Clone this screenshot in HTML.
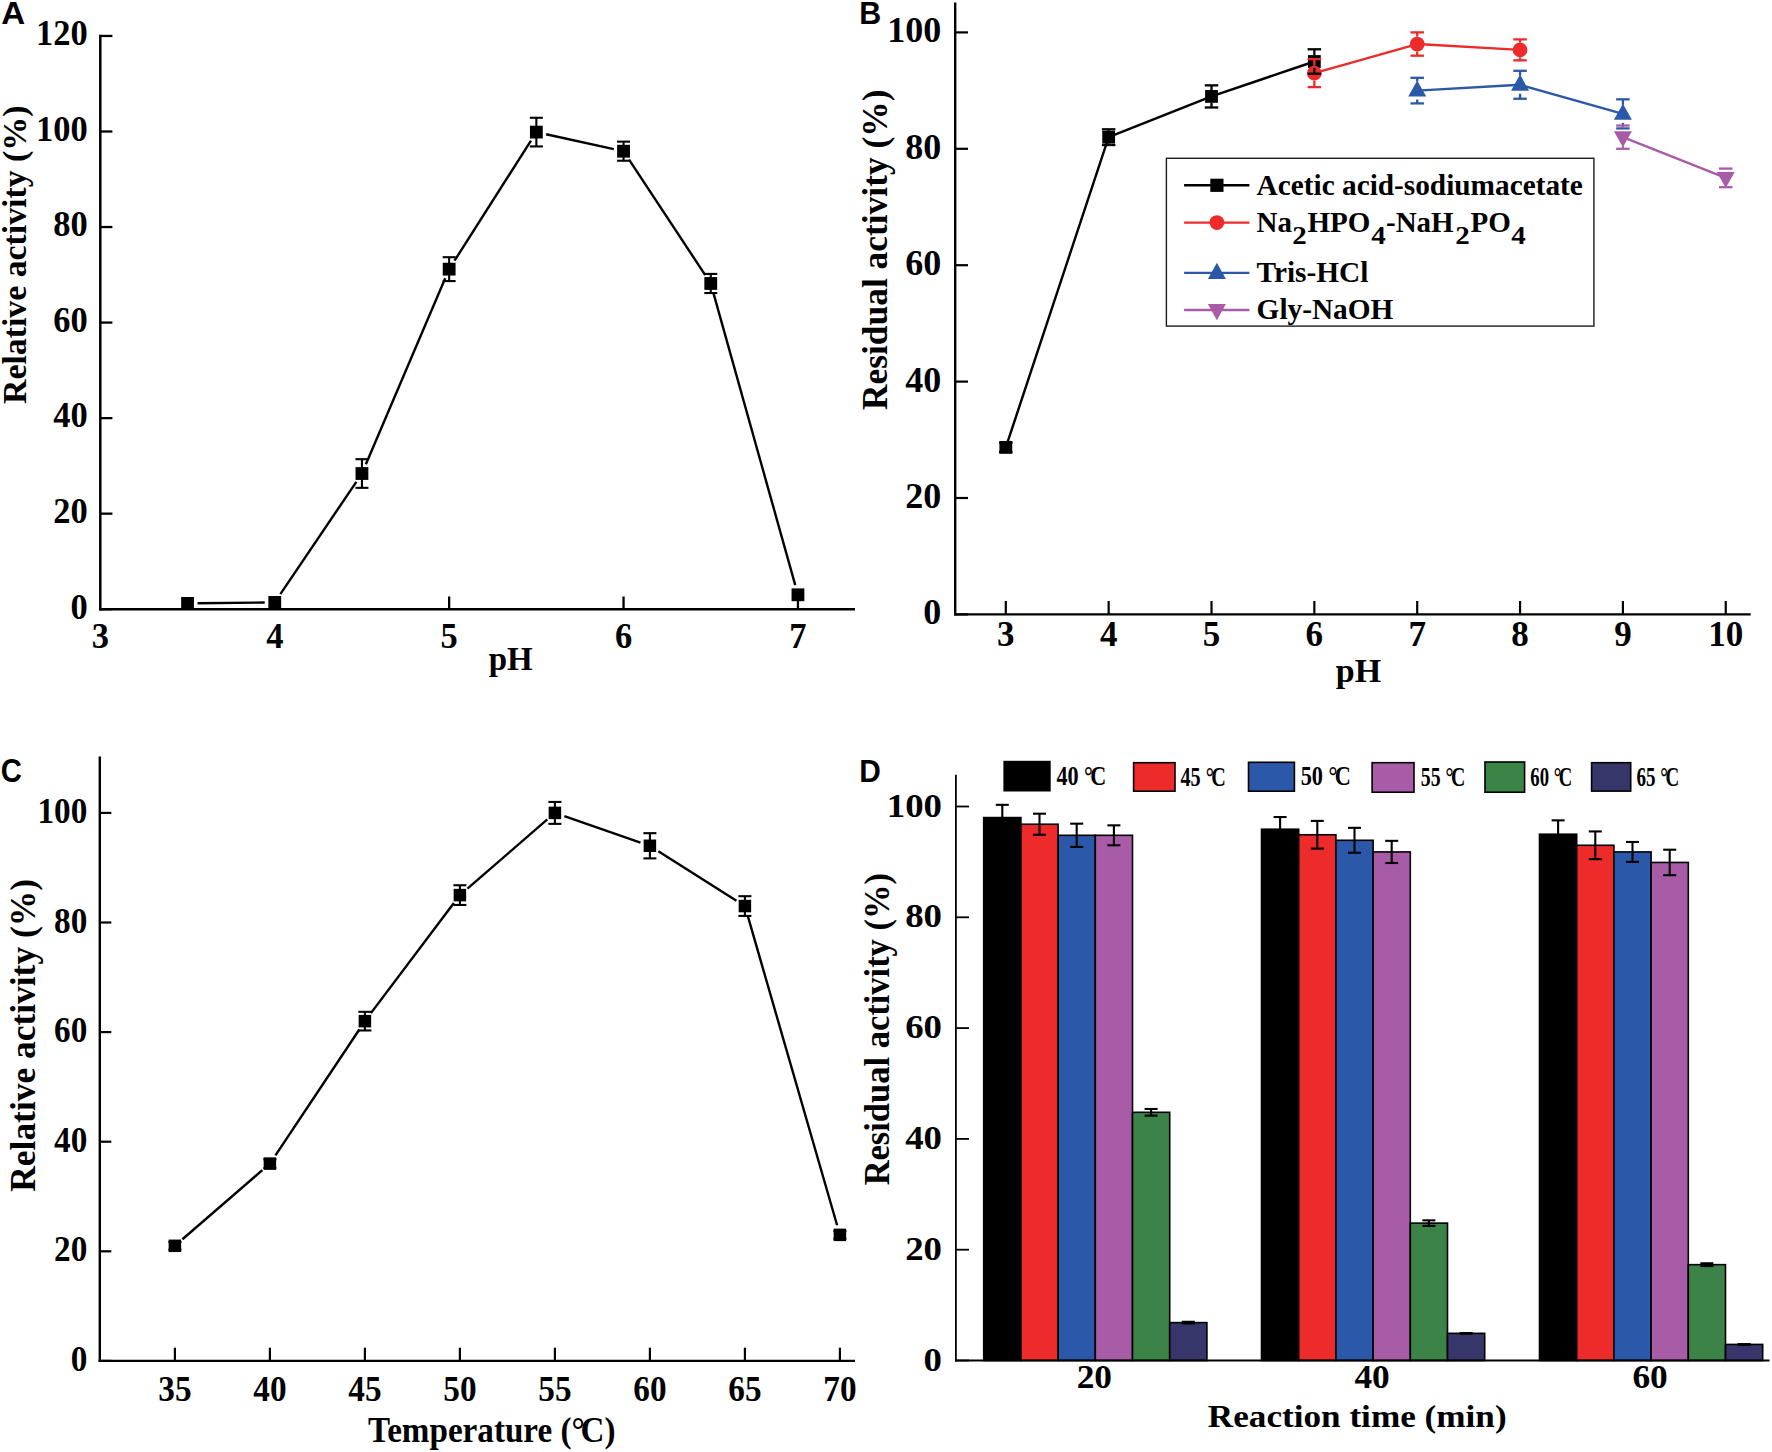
<!DOCTYPE html>
<html lang="en"><head><meta charset="utf-8"><title>Figure</title>
<style>html,body{margin:0;padding:0;background:#fff}svg{display:block}text{fill:#000}</style>
</head><body>
<svg width="1772" height="1452" viewBox="0 0 1772 1452">
<rect width="1772" height="1452" fill="#fff"/>
<line x1="100.3" y1="34.8" x2="100.3" y2="610.45" stroke="#000" stroke-width="2.5" />
<line x1="99.05" y1="609.2" x2="855" y2="609.2" stroke="#000" stroke-width="2.5" />
<line x1="100.3" y1="609.2" x2="112.4" y2="609.2" stroke="#000" stroke-width="2.3" />
<text transform="translate(87.7,618.5) scale(0.985,1)" font-size="35" text-anchor="end" font-family="Liberation Serif, serif" font-weight="bold" >0</text>
<line x1="100.3" y1="513.66" x2="112.4" y2="513.66" stroke="#000" stroke-width="2.3" />
<text transform="translate(87.7,522.96) scale(0.985,1)" font-size="35" text-anchor="end" font-family="Liberation Serif, serif" font-weight="bold" >20</text>
<line x1="100.3" y1="418.12" x2="112.4" y2="418.12" stroke="#000" stroke-width="2.3" />
<text transform="translate(87.7,427.42) scale(0.985,1)" font-size="35" text-anchor="end" font-family="Liberation Serif, serif" font-weight="bold" >40</text>
<line x1="100.3" y1="322.58" x2="112.4" y2="322.58" stroke="#000" stroke-width="2.3" />
<text transform="translate(87.7,331.88) scale(0.985,1)" font-size="35" text-anchor="end" font-family="Liberation Serif, serif" font-weight="bold" >60</text>
<line x1="100.3" y1="227.04" x2="112.4" y2="227.04" stroke="#000" stroke-width="2.3" />
<text transform="translate(87.7,236.34) scale(0.985,1)" font-size="35" text-anchor="end" font-family="Liberation Serif, serif" font-weight="bold" >80</text>
<line x1="100.3" y1="131.5" x2="112.4" y2="131.5" stroke="#000" stroke-width="2.3" />
<text transform="translate(87.7,140.8) scale(0.985,1)" font-size="35" text-anchor="end" font-family="Liberation Serif, serif" font-weight="bold" >100</text>
<line x1="100.3" y1="35.96" x2="112.4" y2="35.96" stroke="#000" stroke-width="2.3" />
<text transform="translate(87.7,45.26) scale(0.985,1)" font-size="35" text-anchor="end" font-family="Liberation Serif, serif" font-weight="bold" >120</text>
<text transform="translate(100.35,647.8) scale(0.985,1)" font-size="35" text-anchor="middle" font-family="Liberation Serif, serif" font-weight="bold" >3</text>
<line x1="274.75" y1="609.2" x2="274.75" y2="596.5" stroke="#000" stroke-width="2.3" />
<text transform="translate(274.75,647.8) scale(0.985,1)" font-size="35" text-anchor="middle" font-family="Liberation Serif, serif" font-weight="bold" >4</text>
<line x1="449.15" y1="609.2" x2="449.15" y2="596.5" stroke="#000" stroke-width="2.3" />
<text transform="translate(449.15,647.8) scale(0.985,1)" font-size="35" text-anchor="middle" font-family="Liberation Serif, serif" font-weight="bold" >5</text>
<line x1="623.55" y1="609.2" x2="623.55" y2="596.5" stroke="#000" stroke-width="2.3" />
<text transform="translate(623.55,647.8) scale(0.985,1)" font-size="35" text-anchor="middle" font-family="Liberation Serif, serif" font-weight="bold" >6</text>
<line x1="797.95" y1="609.2" x2="797.95" y2="596.5" stroke="#000" stroke-width="2.3" />
<text transform="translate(797.95,647.8) scale(0.985,1)" font-size="35" text-anchor="middle" font-family="Liberation Serif, serif" font-weight="bold" >7</text>
<text x="510.7" y="669.9" font-size="33" text-anchor="middle" font-family="Liberation Serif, serif" font-weight="bold" >pH</text>
<text transform="translate(26.3,254.8) rotate(-90) scale(0.98,1)" font-size="34.5" text-anchor="middle" font-family="Liberation Serif, serif" font-weight="bold" >Relative activity (%)</text>
<text transform="translate(1.2,24.3) scale(1.07,1)" font-size="31" text-anchor="start" font-family="Liberation Sans, sans-serif" font-weight="bold" >A</text>
<line x1="197.55" y1="603.28" x2="264.75" y2="602.55" stroke="#000" stroke-width="2.4" />
<line x1="280.35" y1="594.15" x2="356.35" y2="481.8" stroke="#000" stroke-width="2.4" />
<line x1="365.87" y1="464.31" x2="445.23" y2="278.34" stroke="#000" stroke-width="2.4" />
<line x1="454.52" y1="260.71" x2="530.98" y2="140.54" stroke="#000" stroke-width="2.4" />
<line x1="546.12" y1="134.24" x2="613.78" y2="149.06" stroke="#000" stroke-width="2.4" />
<line x1="629.05" y1="159.55" x2="705.25" y2="275.12" stroke="#000" stroke-width="2.4" />
<line x1="713.45" y1="293.1" x2="795.25" y2="585.17" stroke="#000" stroke-width="2.4" />
<line x1="361.95" y1="459.19" x2="361.95" y2="487.84" stroke="#000" stroke-width="2.1" />
<line x1="355.45" y1="459.19" x2="368.45" y2="459.19" stroke="#000" stroke-width="2.1" />
<line x1="355.45" y1="487.84" x2="368.45" y2="487.84" stroke="#000" stroke-width="2.1" />
<line x1="449.15" y1="257.2" x2="449.15" y2="281.08" stroke="#000" stroke-width="2.1" />
<line x1="442.65" y1="257.2" x2="455.65" y2="257.2" stroke="#000" stroke-width="2.1" />
<line x1="442.65" y1="281.08" x2="455.65" y2="281.08" stroke="#000" stroke-width="2.1" />
<line x1="536.35" y1="117.77" x2="536.35" y2="146.43" stroke="#000" stroke-width="2.1" />
<line x1="529.85" y1="117.77" x2="542.85" y2="117.77" stroke="#000" stroke-width="2.1" />
<line x1="529.85" y1="146.43" x2="542.85" y2="146.43" stroke="#000" stroke-width="2.1" />
<line x1="623.55" y1="141.65" x2="623.55" y2="160.75" stroke="#000" stroke-width="2.1" />
<line x1="617.05" y1="141.65" x2="630.05" y2="141.65" stroke="#000" stroke-width="2.1" />
<line x1="617.05" y1="160.75" x2="630.05" y2="160.75" stroke="#000" stroke-width="2.1" />
<line x1="710.75" y1="273.92" x2="710.75" y2="293.02" stroke="#000" stroke-width="2.1" />
<line x1="704.25" y1="273.92" x2="717.25" y2="273.92" stroke="#000" stroke-width="2.1" />
<line x1="704.25" y1="293.02" x2="717.25" y2="293.02" stroke="#000" stroke-width="2.1" />
<rect x="181.15" y="596.99" width="12.8" height="12.8" fill="#000"/>
<rect x="268.35" y="596.04" width="12.8" height="12.8" fill="#000"/>
<rect x="355.55" y="467.11" width="12.8" height="12.8" fill="#000"/>
<rect x="442.75" y="262.74" width="12.8" height="12.8" fill="#000"/>
<rect x="529.95" y="125.7" width="12.8" height="12.8" fill="#000"/>
<rect x="617.15" y="144.8" width="12.8" height="12.8" fill="#000"/>
<rect x="704.35" y="277.07" width="12.8" height="12.8" fill="#000"/>
<rect x="791.55" y="588.4" width="12.8" height="12.8" fill="#000"/>
<line x1="955.2" y1="2.4" x2="955.2" y2="615.6" stroke="#000" stroke-width="2.4" />
<line x1="954" y1="614.4" x2="1750.7" y2="614.4" stroke="#000" stroke-width="2.4" />
<line x1="955.2" y1="614.4" x2="968" y2="614.4" stroke="#000" stroke-width="2.2" />
<text transform="translate(941.2,624.3) scale(1.03,1)" font-size="35" text-anchor="end" font-family="Liberation Serif, serif" font-weight="bold" >0</text>
<line x1="955.2" y1="498" x2="968" y2="498" stroke="#000" stroke-width="2.2" />
<text transform="translate(941.2,507.9) scale(1.03,1)" font-size="35" text-anchor="end" font-family="Liberation Serif, serif" font-weight="bold" >20</text>
<line x1="955.2" y1="381.6" x2="968" y2="381.6" stroke="#000" stroke-width="2.2" />
<text transform="translate(941.2,391.5) scale(1.03,1)" font-size="35" text-anchor="end" font-family="Liberation Serif, serif" font-weight="bold" >40</text>
<line x1="955.2" y1="265.2" x2="968" y2="265.2" stroke="#000" stroke-width="2.2" />
<text transform="translate(941.2,275.1) scale(1.03,1)" font-size="35" text-anchor="end" font-family="Liberation Serif, serif" font-weight="bold" >60</text>
<line x1="955.2" y1="148.8" x2="968" y2="148.8" stroke="#000" stroke-width="2.2" />
<text transform="translate(941.2,158.7) scale(1.03,1)" font-size="35" text-anchor="end" font-family="Liberation Serif, serif" font-weight="bold" >80</text>
<line x1="955.2" y1="32.4" x2="968" y2="32.4" stroke="#000" stroke-width="2.2" />
<text transform="translate(941.2,42.3) scale(1.03,1)" font-size="35" text-anchor="end" font-family="Liberation Serif, serif" font-weight="bold" >100</text>
<line x1="1005.8" y1="614.4" x2="1005.8" y2="601" stroke="#000" stroke-width="2.2" />
<text x="1005.8" y="645.7" font-size="35" text-anchor="middle" font-family="Liberation Serif, serif" font-weight="bold" >3</text>
<line x1="1108.65" y1="614.4" x2="1108.65" y2="601" stroke="#000" stroke-width="2.2" />
<text x="1108.65" y="645.7" font-size="35" text-anchor="middle" font-family="Liberation Serif, serif" font-weight="bold" >4</text>
<line x1="1211.5" y1="614.4" x2="1211.5" y2="601" stroke="#000" stroke-width="2.2" />
<text x="1211.5" y="645.7" font-size="35" text-anchor="middle" font-family="Liberation Serif, serif" font-weight="bold" >5</text>
<line x1="1314.35" y1="614.4" x2="1314.35" y2="601" stroke="#000" stroke-width="2.2" />
<text x="1314.35" y="645.7" font-size="35" text-anchor="middle" font-family="Liberation Serif, serif" font-weight="bold" >6</text>
<line x1="1417.2" y1="614.4" x2="1417.2" y2="601" stroke="#000" stroke-width="2.2" />
<text x="1417.2" y="645.7" font-size="35" text-anchor="middle" font-family="Liberation Serif, serif" font-weight="bold" >7</text>
<line x1="1520.05" y1="614.4" x2="1520.05" y2="601" stroke="#000" stroke-width="2.2" />
<text x="1520.05" y="645.7" font-size="35" text-anchor="middle" font-family="Liberation Serif, serif" font-weight="bold" >8</text>
<line x1="1622.9" y1="614.4" x2="1622.9" y2="601" stroke="#000" stroke-width="2.2" />
<text x="1622.9" y="645.7" font-size="35" text-anchor="middle" font-family="Liberation Serif, serif" font-weight="bold" >9</text>
<line x1="1725.75" y1="614.4" x2="1725.75" y2="601" stroke="#000" stroke-width="2.2" />
<text x="1725.75" y="645.7" font-size="35" text-anchor="middle" font-family="Liberation Serif, serif" font-weight="bold" >10</text>
<text x="1358.5" y="682.4" font-size="34" text-anchor="middle" font-family="Liberation Serif, serif" font-weight="bold" >pH</text>
<text transform="translate(886.6,249.8) rotate(-90) scale(1,1)" font-size="35.4" text-anchor="middle" font-family="Liberation Serif, serif" font-weight="bold" >Residual activity (%)</text>
<text transform="translate(859.2,24.3) scale(0.98,1)" font-size="31" text-anchor="start" font-family="Liberation Sans, sans-serif" font-weight="bold" >B</text>
<polyline fill="none" stroke="#000" stroke-width="2.4" stroke-linejoin="round" points="1005.8,447.37 1108.65,137.16 1211.5,96.42 1314.35,61.5"/>
<polyline fill="none" stroke="#ed2b2a" stroke-width="2.4" stroke-linejoin="round" points="1314.35,73.14 1417.2,44.04 1520.05,49.86"/>
<polyline fill="none" stroke="#2b58a8" stroke-width="2.4" stroke-linejoin="round" points="1417.2,90.6 1520.05,84.78 1622.9,113.88"/>
<polyline fill="none" stroke="#a85ca8" stroke-width="2.4" stroke-linejoin="round" points="1622.9,137.16 1725.75,177.9"/>
<rect x="999.4" y="440.97" width="12.8" height="12.8" fill="#000"/>
<rect x="1102.25" y="130.76" width="12.8" height="12.8" fill="#000"/>
<rect x="1205.1" y="90.02" width="12.8" height="12.8" fill="#000"/>
<rect x="1307.95" y="55.1" width="12.8" height="12.8" fill="#000"/>
<circle cx="1314.35" cy="73.14" r="7.4" fill="#ed2b2a"/>
<circle cx="1417.2" cy="44.04" r="7.4" fill="#ed2b2a"/>
<circle cx="1520.05" cy="49.86" r="7.4" fill="#ed2b2a"/>
<polygon points="1417.2,80.39 1408.2,96.59 1426.2,96.59" fill="#2b58a8"/>
<polygon points="1520.05,74.57 1511.05,90.77 1529.05,90.77" fill="#2b58a8"/>
<polygon points="1622.9,103.67 1613.9,119.87 1631.9,119.87" fill="#2b58a8"/>
<polygon points="1622.9,147.37 1613.9,131.17 1631.9,131.17" fill="#a85ca8"/>
<polygon points="1725.75,188.11 1716.75,171.91 1734.75,171.91" fill="#a85ca8"/>
<line x1="999.05" y1="442.71" x2="1012.55" y2="442.71" stroke="#000" stroke-width="2.3" />
<line x1="999.05" y1="452.02" x2="1012.55" y2="452.02" stroke="#000" stroke-width="2.3" />
<line x1="1108.65" y1="129.3" x2="1108.65" y2="130.76" stroke="#000" stroke-width="2.3" />
<line x1="1108.65" y1="143.56" x2="1108.65" y2="145.02" stroke="#000" stroke-width="2.3" />
<line x1="1101.9" y1="129.3" x2="1115.4" y2="129.3" stroke="#000" stroke-width="2.3" />
<line x1="1101.9" y1="145.02" x2="1115.4" y2="145.02" stroke="#000" stroke-width="2.3" />
<line x1="1211.5" y1="85.36" x2="1211.5" y2="90.02" stroke="#000" stroke-width="2.3" />
<line x1="1211.5" y1="102.82" x2="1211.5" y2="107.48" stroke="#000" stroke-width="2.3" />
<line x1="1204.75" y1="85.36" x2="1218.25" y2="85.36" stroke="#000" stroke-width="2.3" />
<line x1="1204.75" y1="107.48" x2="1218.25" y2="107.48" stroke="#000" stroke-width="2.3" />
<line x1="1314.35" y1="49.28" x2="1314.35" y2="55.1" stroke="#000" stroke-width="2.3" />
<line x1="1314.35" y1="67.9" x2="1314.35" y2="73.72" stroke="#000" stroke-width="2.3" />
<line x1="1307.6" y1="49.28" x2="1321.1" y2="49.28" stroke="#000" stroke-width="2.3" />
<line x1="1307.6" y1="73.72" x2="1321.1" y2="73.72" stroke="#000" stroke-width="2.3" />
<line x1="1314.35" y1="59.17" x2="1314.35" y2="65.74" stroke="#ed2b2a" stroke-width="2.3" />
<line x1="1314.35" y1="80.54" x2="1314.35" y2="87.11" stroke="#ed2b2a" stroke-width="2.3" />
<line x1="1307.6" y1="59.17" x2="1321.1" y2="59.17" stroke="#ed2b2a" stroke-width="2.3" />
<line x1="1307.6" y1="87.11" x2="1321.1" y2="87.11" stroke="#ed2b2a" stroke-width="2.3" />
<line x1="1417.2" y1="32.4" x2="1417.2" y2="36.64" stroke="#ed2b2a" stroke-width="2.3" />
<line x1="1417.2" y1="51.44" x2="1417.2" y2="55.68" stroke="#ed2b2a" stroke-width="2.3" />
<line x1="1410.45" y1="32.4" x2="1423.95" y2="32.4" stroke="#ed2b2a" stroke-width="2.3" />
<line x1="1410.45" y1="55.68" x2="1423.95" y2="55.68" stroke="#ed2b2a" stroke-width="2.3" />
<line x1="1520.05" y1="39.38" x2="1520.05" y2="42.46" stroke="#ed2b2a" stroke-width="2.3" />
<line x1="1520.05" y1="57.26" x2="1520.05" y2="60.34" stroke="#ed2b2a" stroke-width="2.3" />
<line x1="1513.3" y1="39.38" x2="1526.8" y2="39.38" stroke="#ed2b2a" stroke-width="2.3" />
<line x1="1513.3" y1="60.34" x2="1526.8" y2="60.34" stroke="#ed2b2a" stroke-width="2.3" />
<line x1="1417.2" y1="77.8" x2="1417.2" y2="81.6" stroke="#2b58a8" stroke-width="2.3" />
<line x1="1417.2" y1="99.6" x2="1417.2" y2="103.4" stroke="#2b58a8" stroke-width="2.3" />
<line x1="1410.45" y1="77.8" x2="1423.95" y2="77.8" stroke="#2b58a8" stroke-width="2.3" />
<line x1="1410.45" y1="103.4" x2="1423.95" y2="103.4" stroke="#2b58a8" stroke-width="2.3" />
<line x1="1520.05" y1="70.81" x2="1520.05" y2="75.78" stroke="#2b58a8" stroke-width="2.3" />
<line x1="1520.05" y1="93.78" x2="1520.05" y2="98.75" stroke="#2b58a8" stroke-width="2.3" />
<line x1="1513.3" y1="70.81" x2="1526.8" y2="70.81" stroke="#2b58a8" stroke-width="2.3" />
<line x1="1513.3" y1="98.75" x2="1526.8" y2="98.75" stroke="#2b58a8" stroke-width="2.3" />
<line x1="1622.9" y1="99.33" x2="1622.9" y2="104.88" stroke="#2b58a8" stroke-width="2.3" />
<line x1="1622.9" y1="122.88" x2="1622.9" y2="128.43" stroke="#2b58a8" stroke-width="2.3" />
<line x1="1616.15" y1="99.33" x2="1629.65" y2="99.33" stroke="#2b58a8" stroke-width="2.3" />
<line x1="1616.15" y1="128.43" x2="1629.65" y2="128.43" stroke="#2b58a8" stroke-width="2.3" />
<line x1="1622.9" y1="125.52" x2="1622.9" y2="128.16" stroke="#a85ca8" stroke-width="2.3" />
<line x1="1622.9" y1="146.16" x2="1622.9" y2="148.8" stroke="#a85ca8" stroke-width="2.3" />
<line x1="1616.15" y1="125.52" x2="1629.65" y2="125.52" stroke="#a85ca8" stroke-width="2.3" />
<line x1="1616.15" y1="148.8" x2="1629.65" y2="148.8" stroke="#a85ca8" stroke-width="2.3" />
<line x1="1725.75" y1="168.59" x2="1725.75" y2="168.9" stroke="#a85ca8" stroke-width="2.3" />
<line x1="1725.75" y1="186.9" x2="1725.75" y2="187.21" stroke="#a85ca8" stroke-width="2.3" />
<line x1="1719" y1="168.59" x2="1732.5" y2="168.59" stroke="#a85ca8" stroke-width="2.3" />
<line x1="1719" y1="187.21" x2="1732.5" y2="187.21" stroke="#a85ca8" stroke-width="2.3" />
<rect x="1166.4" y="158.3" width="427.5" height="167.8" fill="#fff" stroke="#1c1c1c" stroke-width="1.4"/>
<line x1="1184.1" y1="185.3" x2="1249.4" y2="185.3" stroke="#000" stroke-width="2.4" />
<rect x="1210.3" y="178.7" width="13.2" height="13.2" fill="#000"/>
<text x="1256.6" y="194.6" font-size="29.3" text-anchor="start" font-family="Liberation Serif, serif" font-weight="bold" >Acetic acid-sodiumacetate</text>
<line x1="1184.1" y1="222.6" x2="1249.4" y2="222.6" stroke="#ed2b2a" stroke-width="2.4" />
<circle cx="1216.9" cy="222.6" r="7.4" fill="#ed2b2a"/>
<line x1="1184.1" y1="272.9" x2="1249.4" y2="272.9" stroke="#2b58a8" stroke-width="2.4" />
<polygon points="1216.9,262.69 1207.9,278.89 1225.9,278.89" fill="#2b58a8"/>
<text x="1256.6" y="282.3" font-size="29.3" text-anchor="start" font-family="Liberation Serif, serif" font-weight="bold" >Tris-HCl</text>
<line x1="1184.1" y1="310" x2="1249.4" y2="310" stroke="#a85ca8" stroke-width="2.4" />
<polygon points="1216.9,320.21 1207.9,304.01 1225.9,304.01" fill="#a85ca8"/>
<text x="1256.6" y="319.1" font-size="29.3" text-anchor="start" font-family="Liberation Serif, serif" font-weight="bold" >Gly-NaOH</text>
<text y="232" font-size="29" font-family="Liberation Serif, serif" font-weight="bold"><tspan x="1256.6">Na</tspan><tspan x="1292.2" dy="11.5" font-size="25.5" textLength="14.5" lengthAdjust="spacingAndGlyphs">2</tspan><tspan x="1307.5" dy="-11.5">HPO</tspan><tspan x="1371.2" dy="11.5" font-size="25.5" textLength="14.5" lengthAdjust="spacingAndGlyphs">4</tspan><tspan x="1386" dy="-11.5">-NaH</tspan><tspan x="1455.2" dy="11.5" font-size="25.5" textLength="14.5" lengthAdjust="spacingAndGlyphs">2</tspan><tspan x="1470.5" dy="-11.5">PO</tspan><tspan x="1511.2" dy="11.5" font-size="25.5" textLength="14.5" lengthAdjust="spacingAndGlyphs">4</tspan></text>
<line x1="99.8" y1="756.5" x2="99.8" y2="1362.1" stroke="#000" stroke-width="2.4" />
<line x1="98.6" y1="1360.9" x2="855" y2="1360.9" stroke="#000" stroke-width="2.4" />
<line x1="99.8" y1="1360.9" x2="111.3" y2="1360.9" stroke="#000" stroke-width="2.2" />
<text transform="translate(87.3,1370.9) scale(0.91,1)" font-size="36.5" text-anchor="end" font-family="Liberation Serif, serif" font-weight="bold" >0</text>
<line x1="99.8" y1="1251.3" x2="111.3" y2="1251.3" stroke="#000" stroke-width="2.2" />
<text transform="translate(87.3,1261.3) scale(0.91,1)" font-size="36.5" text-anchor="end" font-family="Liberation Serif, serif" font-weight="bold" >20</text>
<line x1="99.8" y1="1141.7" x2="111.3" y2="1141.7" stroke="#000" stroke-width="2.2" />
<text transform="translate(87.3,1151.7) scale(0.91,1)" font-size="36.5" text-anchor="end" font-family="Liberation Serif, serif" font-weight="bold" >40</text>
<line x1="99.8" y1="1032.1" x2="111.3" y2="1032.1" stroke="#000" stroke-width="2.2" />
<text transform="translate(87.3,1042.1) scale(0.91,1)" font-size="36.5" text-anchor="end" font-family="Liberation Serif, serif" font-weight="bold" >60</text>
<line x1="99.8" y1="922.5" x2="111.3" y2="922.5" stroke="#000" stroke-width="2.2" />
<text transform="translate(87.3,932.5) scale(0.91,1)" font-size="36.5" text-anchor="end" font-family="Liberation Serif, serif" font-weight="bold" >80</text>
<line x1="99.8" y1="812.9" x2="111.3" y2="812.9" stroke="#000" stroke-width="2.2" />
<text transform="translate(87.3,822.9) scale(0.91,1)" font-size="36.5" text-anchor="end" font-family="Liberation Serif, serif" font-weight="bold" >100</text>
<line x1="174.9" y1="1360.9" x2="174.9" y2="1347.7" stroke="#000" stroke-width="2.2" />
<text transform="translate(174.9,1400.7) scale(0.91,1)" font-size="36.5" text-anchor="middle" font-family="Liberation Serif, serif" font-weight="bold" >35</text>
<line x1="269.9" y1="1360.9" x2="269.9" y2="1347.7" stroke="#000" stroke-width="2.2" />
<text transform="translate(269.9,1400.7) scale(0.91,1)" font-size="36.5" text-anchor="middle" font-family="Liberation Serif, serif" font-weight="bold" >40</text>
<line x1="364.9" y1="1360.9" x2="364.9" y2="1347.7" stroke="#000" stroke-width="2.2" />
<text transform="translate(364.9,1400.7) scale(0.91,1)" font-size="36.5" text-anchor="middle" font-family="Liberation Serif, serif" font-weight="bold" >45</text>
<line x1="459.9" y1="1360.9" x2="459.9" y2="1347.7" stroke="#000" stroke-width="2.2" />
<text transform="translate(459.9,1400.7) scale(0.91,1)" font-size="36.5" text-anchor="middle" font-family="Liberation Serif, serif" font-weight="bold" >50</text>
<line x1="554.9" y1="1360.9" x2="554.9" y2="1347.7" stroke="#000" stroke-width="2.2" />
<text transform="translate(554.9,1400.7) scale(0.91,1)" font-size="36.5" text-anchor="middle" font-family="Liberation Serif, serif" font-weight="bold" >55</text>
<line x1="649.9" y1="1360.9" x2="649.9" y2="1347.7" stroke="#000" stroke-width="2.2" />
<text transform="translate(649.9,1400.7) scale(0.91,1)" font-size="36.5" text-anchor="middle" font-family="Liberation Serif, serif" font-weight="bold" >60</text>
<line x1="744.9" y1="1360.9" x2="744.9" y2="1347.7" stroke="#000" stroke-width="2.2" />
<text transform="translate(744.9,1400.7) scale(0.91,1)" font-size="36.5" text-anchor="middle" font-family="Liberation Serif, serif" font-weight="bold" >65</text>
<line x1="839.9" y1="1360.9" x2="839.9" y2="1347.7" stroke="#000" stroke-width="2.2" />
<text transform="translate(839.9,1400.7) scale(0.91,1)" font-size="36.5" text-anchor="middle" font-family="Liberation Serif, serif" font-weight="bold" >70</text>
<text transform="translate(491.8,1441.8) scale(0.939,1)" font-size="35.3" text-anchor="middle" font-family="Liberation Serif, serif" font-weight="bold">Temperature (°<tspan dx="-4.5">C</tspan>)</text>
<text transform="translate(35,1035.4) rotate(-90) scale(1.012,1)" font-size="35" text-anchor="middle" font-family="Liberation Serif, serif" font-weight="bold" >Relative activity (%)</text>
<text transform="translate(0.7,782.1) scale(0.9,1)" font-size="32.5" text-anchor="start" font-family="Liberation Sans, sans-serif" font-weight="bold" >C</text>
<line x1="182.46" y1="1239.28" x2="262.34" y2="1170.16" stroke="#000" stroke-width="2.4" />
<line x1="275.45" y1="1155.3" x2="359.35" y2="1029.46" stroke="#000" stroke-width="2.4" />
<line x1="370.92" y1="1013.15" x2="453.88" y2="903.09" stroke="#000" stroke-width="2.4" />
<line x1="467.46" y1="888.56" x2="547.34" y2="819.44" stroke="#000" stroke-width="2.4" />
<line x1="564.35" y1="816.17" x2="640.45" y2="842.51" stroke="#000" stroke-width="2.4" />
<line x1="658.34" y1="851.14" x2="736.46" y2="900.7" stroke="#000" stroke-width="2.4" />
<line x1="747.68" y1="915.67" x2="837.12" y2="1225.25" stroke="#000" stroke-width="2.4" />
<line x1="174.9" y1="1241.98" x2="174.9" y2="1249.66" stroke="#000" stroke-width="2.1" />
<line x1="168.4" y1="1241.98" x2="181.4" y2="1241.98" stroke="#000" stroke-width="2.1" />
<line x1="168.4" y1="1249.66" x2="181.4" y2="1249.66" stroke="#000" stroke-width="2.1" />
<line x1="269.9" y1="1159.24" x2="269.9" y2="1168" stroke="#000" stroke-width="2.1" />
<line x1="263.4" y1="1159.24" x2="276.4" y2="1159.24" stroke="#000" stroke-width="2.1" />
<line x1="263.4" y1="1168" x2="276.4" y2="1168" stroke="#000" stroke-width="2.1" />
<line x1="364.9" y1="1011.82" x2="364.9" y2="1030.46" stroke="#000" stroke-width="2.1" />
<line x1="358.4" y1="1011.82" x2="371.4" y2="1011.82" stroke="#000" stroke-width="2.1" />
<line x1="358.4" y1="1030.46" x2="371.4" y2="1030.46" stroke="#000" stroke-width="2.1" />
<line x1="459.9" y1="885.24" x2="459.9" y2="904.96" stroke="#000" stroke-width="2.1" />
<line x1="453.4" y1="885.24" x2="466.4" y2="885.24" stroke="#000" stroke-width="2.1" />
<line x1="453.4" y1="904.96" x2="466.4" y2="904.96" stroke="#000" stroke-width="2.1" />
<line x1="554.9" y1="801.94" x2="554.9" y2="823.86" stroke="#000" stroke-width="2.1" />
<line x1="548.4" y1="801.94" x2="561.4" y2="801.94" stroke="#000" stroke-width="2.1" />
<line x1="548.4" y1="823.86" x2="561.4" y2="823.86" stroke="#000" stroke-width="2.1" />
<line x1="649.9" y1="833.18" x2="649.9" y2="858.38" stroke="#000" stroke-width="2.1" />
<line x1="643.4" y1="833.18" x2="656.4" y2="833.18" stroke="#000" stroke-width="2.1" />
<line x1="643.4" y1="858.38" x2="656.4" y2="858.38" stroke="#000" stroke-width="2.1" />
<line x1="744.9" y1="896.2" x2="744.9" y2="915.92" stroke="#000" stroke-width="2.1" />
<line x1="738.4" y1="896.2" x2="751.4" y2="896.2" stroke="#000" stroke-width="2.1" />
<line x1="738.4" y1="915.92" x2="751.4" y2="915.92" stroke="#000" stroke-width="2.1" />
<line x1="839.9" y1="1231.02" x2="839.9" y2="1238.7" stroke="#000" stroke-width="2.1" />
<line x1="833.4" y1="1231.02" x2="846.4" y2="1231.02" stroke="#000" stroke-width="2.1" />
<line x1="833.4" y1="1238.7" x2="846.4" y2="1238.7" stroke="#000" stroke-width="2.1" />
<rect x="168.65" y="1239.57" width="12.5" height="12.5" fill="#000"/>
<rect x="263.65" y="1157.37" width="12.5" height="12.5" fill="#000"/>
<rect x="358.65" y="1014.89" width="12.5" height="12.5" fill="#000"/>
<rect x="453.65" y="888.85" width="12.5" height="12.5" fill="#000"/>
<rect x="548.65" y="806.65" width="12.5" height="12.5" fill="#000"/>
<rect x="643.65" y="839.53" width="12.5" height="12.5" fill="#000"/>
<rect x="738.65" y="899.81" width="12.5" height="12.5" fill="#000"/>
<rect x="833.65" y="1228.61" width="12.5" height="12.5" fill="#000"/>
<rect x="983.7" y="817.58" width="37.2" height="542.92" fill="#000" stroke="#000" stroke-width="1.6"/>
<rect x="1020.9" y="824.23" width="37.2" height="536.27" fill="#ed2b2a" stroke="#000" stroke-width="1.6"/>
<rect x="1058.1" y="835.31" width="37.2" height="525.19" fill="#2b58a8" stroke="#000" stroke-width="1.6"/>
<rect x="1095.3" y="835.31" width="37.2" height="525.19" fill="#a85ca8" stroke="#000" stroke-width="1.6"/>
<rect x="1132.5" y="1112.31" width="37.2" height="248.19" fill="#3b8346" stroke="#000" stroke-width="1.6"/>
<rect x="1169.7" y="1322.61" width="37.2" height="37.89" fill="#36366a" stroke="#000" stroke-width="1.6"/>
<line x1="1002.3" y1="804.84" x2="1002.3" y2="830.32" stroke="#000" stroke-width="2.1" />
<line x1="995.8" y1="804.84" x2="1008.8" y2="804.84" stroke="#000" stroke-width="2.1" />
<line x1="995.8" y1="830.32" x2="1008.8" y2="830.32" stroke="#000" stroke-width="2.1" />
<line x1="1039.5" y1="813.7" x2="1039.5" y2="834.75" stroke="#000" stroke-width="2.1" />
<line x1="1033" y1="813.7" x2="1046" y2="813.7" stroke="#000" stroke-width="2.1" />
<line x1="1033" y1="834.75" x2="1046" y2="834.75" stroke="#000" stroke-width="2.1" />
<line x1="1076.7" y1="823.67" x2="1076.7" y2="846.94" stroke="#000" stroke-width="2.1" />
<line x1="1070.2" y1="823.67" x2="1083.2" y2="823.67" stroke="#000" stroke-width="2.1" />
<line x1="1070.2" y1="846.94" x2="1083.2" y2="846.94" stroke="#000" stroke-width="2.1" />
<line x1="1113.9" y1="825.34" x2="1113.9" y2="845.28" stroke="#000" stroke-width="2.1" />
<line x1="1107.4" y1="825.34" x2="1120.4" y2="825.34" stroke="#000" stroke-width="2.1" />
<line x1="1107.4" y1="845.28" x2="1120.4" y2="845.28" stroke="#000" stroke-width="2.1" />
<line x1="1151.1" y1="1108.98" x2="1151.1" y2="1115.63" stroke="#000" stroke-width="2.1" />
<line x1="1144.6" y1="1108.98" x2="1157.6" y2="1108.98" stroke="#000" stroke-width="2.1" />
<line x1="1144.6" y1="1115.63" x2="1157.6" y2="1115.63" stroke="#000" stroke-width="2.1" />
<line x1="1188.3" y1="1321.78" x2="1188.3" y2="1323.44" stroke="#000" stroke-width="2.1" />
<line x1="1181.8" y1="1321.78" x2="1194.8" y2="1321.78" stroke="#000" stroke-width="2.1" />
<line x1="1181.8" y1="1323.44" x2="1194.8" y2="1323.44" stroke="#000" stroke-width="2.1" />
<text transform="translate(1094.3,1388.3) scale(1.04,1)" font-size="34" text-anchor="middle" font-family="Liberation Serif, serif" font-weight="bold" >20</text>
<rect x="1261.5" y="829.21" width="37.2" height="531.29" fill="#000" stroke="#000" stroke-width="1.6"/>
<rect x="1298.7" y="834.75" width="37.2" height="525.75" fill="#ed2b2a" stroke="#000" stroke-width="1.6"/>
<rect x="1335.9" y="840.29" width="37.2" height="520.21" fill="#2b58a8" stroke="#000" stroke-width="1.6"/>
<rect x="1373.1" y="851.93" width="37.2" height="508.57" fill="#a85ca8" stroke="#000" stroke-width="1.6"/>
<rect x="1410.3" y="1223.11" width="37.2" height="137.39" fill="#3b8346" stroke="#000" stroke-width="1.6"/>
<rect x="1447.5" y="1333.35" width="37.2" height="27.15" fill="#36366a" stroke="#000" stroke-width="1.6"/>
<line x1="1280.1" y1="817.03" x2="1280.1" y2="841.4" stroke="#000" stroke-width="2.1" />
<line x1="1273.6" y1="817.03" x2="1286.6" y2="817.03" stroke="#000" stroke-width="2.1" />
<line x1="1273.6" y1="841.4" x2="1286.6" y2="841.4" stroke="#000" stroke-width="2.1" />
<line x1="1317.3" y1="820.9" x2="1317.3" y2="848.6" stroke="#000" stroke-width="2.1" />
<line x1="1310.8" y1="820.9" x2="1323.8" y2="820.9" stroke="#000" stroke-width="2.1" />
<line x1="1310.8" y1="848.6" x2="1323.8" y2="848.6" stroke="#000" stroke-width="2.1" />
<line x1="1354.5" y1="827.83" x2="1354.5" y2="852.76" stroke="#000" stroke-width="2.1" />
<line x1="1348" y1="827.83" x2="1361" y2="827.83" stroke="#000" stroke-width="2.1" />
<line x1="1348" y1="852.76" x2="1361" y2="852.76" stroke="#000" stroke-width="2.1" />
<line x1="1391.7" y1="840.85" x2="1391.7" y2="863.01" stroke="#000" stroke-width="2.1" />
<line x1="1385.2" y1="840.85" x2="1398.2" y2="840.85" stroke="#000" stroke-width="2.1" />
<line x1="1385.2" y1="863.01" x2="1398.2" y2="863.01" stroke="#000" stroke-width="2.1" />
<line x1="1428.9" y1="1220.34" x2="1428.9" y2="1225.88" stroke="#000" stroke-width="2.1" />
<line x1="1422.4" y1="1220.34" x2="1435.4" y2="1220.34" stroke="#000" stroke-width="2.1" />
<line x1="1422.4" y1="1225.88" x2="1435.4" y2="1225.88" stroke="#000" stroke-width="2.1" />
<line x1="1466.1" y1="1333.08" x2="1466.1" y2="1333.63" stroke="#000" stroke-width="2.1" />
<line x1="1459.6" y1="1333.08" x2="1472.6" y2="1333.08" stroke="#000" stroke-width="2.1" />
<line x1="1459.6" y1="1333.63" x2="1472.6" y2="1333.63" stroke="#000" stroke-width="2.1" />
<text transform="translate(1372.1,1388.3) scale(1.04,1)" font-size="34" text-anchor="middle" font-family="Liberation Serif, serif" font-weight="bold" >40</text>
<rect x="1539.5" y="834.2" width="37.2" height="526.3" fill="#000" stroke="#000" stroke-width="1.6"/>
<rect x="1576.7" y="845.28" width="37.2" height="515.22" fill="#ed2b2a" stroke="#000" stroke-width="1.6"/>
<rect x="1613.9" y="851.93" width="37.2" height="508.57" fill="#2b58a8" stroke="#000" stroke-width="1.6"/>
<rect x="1651.1" y="862.45" width="37.2" height="498.05" fill="#a85ca8" stroke="#000" stroke-width="1.6"/>
<rect x="1688.3" y="1264.66" width="37.2" height="95.84" fill="#3b8346" stroke="#000" stroke-width="1.6"/>
<rect x="1725.5" y="1344.43" width="37.2" height="16.07" fill="#36366a" stroke="#000" stroke-width="1.6"/>
<line x1="1558.1" y1="820.35" x2="1558.1" y2="848.05" stroke="#000" stroke-width="2.1" />
<line x1="1551.6" y1="820.35" x2="1564.6" y2="820.35" stroke="#000" stroke-width="2.1" />
<line x1="1551.6" y1="848.05" x2="1564.6" y2="848.05" stroke="#000" stroke-width="2.1" />
<line x1="1595.3" y1="831.43" x2="1595.3" y2="859.13" stroke="#000" stroke-width="2.1" />
<line x1="1588.8" y1="831.43" x2="1601.8" y2="831.43" stroke="#000" stroke-width="2.1" />
<line x1="1588.8" y1="859.13" x2="1601.8" y2="859.13" stroke="#000" stroke-width="2.1" />
<line x1="1632.5" y1="841.96" x2="1632.5" y2="861.9" stroke="#000" stroke-width="2.1" />
<line x1="1626" y1="841.96" x2="1639" y2="841.96" stroke="#000" stroke-width="2.1" />
<line x1="1626" y1="861.9" x2="1639" y2="861.9" stroke="#000" stroke-width="2.1" />
<line x1="1669.7" y1="849.71" x2="1669.7" y2="875.2" stroke="#000" stroke-width="2.1" />
<line x1="1663.2" y1="849.71" x2="1676.2" y2="849.71" stroke="#000" stroke-width="2.1" />
<line x1="1663.2" y1="875.2" x2="1676.2" y2="875.2" stroke="#000" stroke-width="2.1" />
<line x1="1706.9" y1="1263.27" x2="1706.9" y2="1266.04" stroke="#000" stroke-width="2.1" />
<line x1="1700.4" y1="1263.27" x2="1713.4" y2="1263.27" stroke="#000" stroke-width="2.1" />
<line x1="1700.4" y1="1266.04" x2="1713.4" y2="1266.04" stroke="#000" stroke-width="2.1" />
<line x1="1744.1" y1="1344.16" x2="1744.1" y2="1344.71" stroke="#000" stroke-width="2.1" />
<line x1="1737.6" y1="1344.16" x2="1750.6" y2="1344.16" stroke="#000" stroke-width="2.1" />
<line x1="1737.6" y1="1344.71" x2="1750.6" y2="1344.71" stroke="#000" stroke-width="2.1" />
<text transform="translate(1650.1,1388.3) scale(1.04,1)" font-size="34" text-anchor="middle" font-family="Liberation Serif, serif" font-weight="bold" >60</text>
<line x1="955.9" y1="774.8" x2="955.9" y2="1361.4" stroke="#000" stroke-width="1.8" />
<line x1="955" y1="1360.5" x2="1769.5" y2="1360.5" stroke="#000" stroke-width="1.8" />
<line x1="955.9" y1="1360.5" x2="969" y2="1360.5" stroke="#000" stroke-width="1.8" />
<text transform="translate(942,1370.6) scale(1.065,1)" font-size="34.6" text-anchor="end" font-family="Liberation Serif, serif" font-weight="bold" >0</text>
<line x1="955.9" y1="1249.7" x2="969" y2="1249.7" stroke="#000" stroke-width="1.8" />
<text transform="translate(942,1259.8) scale(1.065,1)" font-size="34.6" text-anchor="end" font-family="Liberation Serif, serif" font-weight="bold" >20</text>
<line x1="955.9" y1="1138.9" x2="969" y2="1138.9" stroke="#000" stroke-width="1.8" />
<text transform="translate(942,1149) scale(1.065,1)" font-size="34.6" text-anchor="end" font-family="Liberation Serif, serif" font-weight="bold" >40</text>
<line x1="955.9" y1="1028.1" x2="969" y2="1028.1" stroke="#000" stroke-width="1.8" />
<text transform="translate(942,1038.2) scale(1.065,1)" font-size="34.6" text-anchor="end" font-family="Liberation Serif, serif" font-weight="bold" >60</text>
<line x1="955.9" y1="917.3" x2="969" y2="917.3" stroke="#000" stroke-width="1.8" />
<text transform="translate(942,927.4) scale(1.065,1)" font-size="34.6" text-anchor="end" font-family="Liberation Serif, serif" font-weight="bold" >80</text>
<line x1="955.9" y1="806.5" x2="969" y2="806.5" stroke="#000" stroke-width="1.8" />
<text transform="translate(942,816.6) scale(1.065,1)" font-size="34.6" text-anchor="end" font-family="Liberation Serif, serif" font-weight="bold" >100</text>
<text transform="translate(1357.2,1427.3) scale(1.113,1)" font-size="31.6" text-anchor="middle" font-family="Liberation Serif, serif" font-weight="bold" >Reaction time (min)</text>
<text transform="translate(889.2,1029.2) rotate(-90) scale(0.94,1)" font-size="36.7" text-anchor="middle" font-family="Liberation Serif, serif" font-weight="bold" >Residual activity (%)</text>
<text transform="translate(859.2,782.2) scale(0.935,1)" font-size="32" text-anchor="start" font-family="Liberation Sans, sans-serif" font-weight="bold" >D</text>
<rect x="1004.2" y="761.6" width="45.7" height="29.1" fill="#000" stroke="#000" stroke-width="1.6"/>
<text transform="translate(1056.4,784.5) scale(0.842,1)" font-size="26.3" font-family="Liberation Serif, serif" font-weight="bold">40 °<tspan dx="-3.2">C</tspan></text>
<rect x="1133.6" y="762.7" width="41.4" height="28.5" fill="#ed2b2a" stroke="#000" stroke-width="1.6"/>
<text transform="translate(1180.5,786) scale(0.768,1)" font-size="26.3" font-family="Liberation Serif, serif" font-weight="bold">45 °<tspan dx="-3.2">C</tspan></text>
<rect x="1248.5" y="762.3" width="45.9" height="28.9" fill="#2b58a8" stroke="#000" stroke-width="1.6"/>
<text transform="translate(1300.7,784.5) scale(0.849,1)" font-size="26.3" font-family="Liberation Serif, serif" font-weight="bold">50 °<tspan dx="-3.2">C</tspan></text>
<rect x="1372.1" y="762.7" width="41.9" height="29.5" fill="#a85ca8" stroke="#000" stroke-width="1.6"/>
<text transform="translate(1420.8,786) scale(0.754,1)" font-size="26.3" font-family="Liberation Serif, serif" font-weight="bold">55 °<tspan dx="-3.2">C</tspan></text>
<rect x="1485" y="762" width="39.6" height="30.2" fill="#3b8346" stroke="#000" stroke-width="1.6"/>
<text transform="translate(1530.3,786) scale(0.711,1)" font-size="26.3" font-family="Liberation Serif, serif" font-weight="bold">60 °<tspan dx="-3.2">C</tspan></text>
<rect x="1591.6" y="762.7" width="39.1" height="28.4" fill="#36366a" stroke="#000" stroke-width="1.6"/>
<text transform="translate(1636.5,786) scale(0.723,1)" font-size="26.3" font-family="Liberation Serif, serif" font-weight="bold">65 °<tspan dx="-3.2">C</tspan></text>
</svg>
</body></html>
